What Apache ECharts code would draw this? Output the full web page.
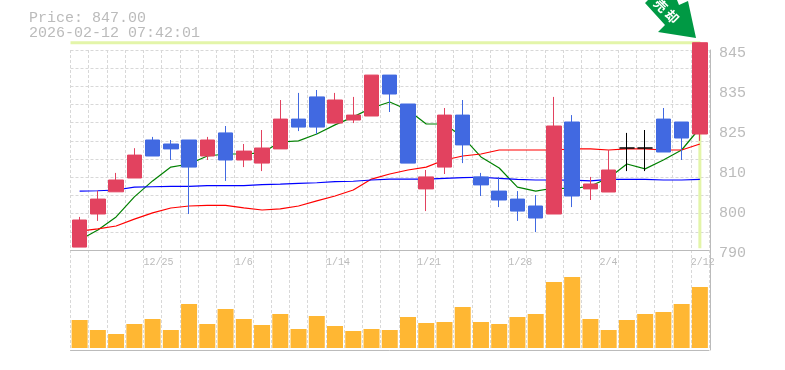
<!DOCTYPE html>
<html>
<head>
<meta charset="utf-8">
<style>
html, body { margin: 0; padding: 0; background: #fff; }
#chart { width: 785px; height: 370px; }
</style>
<script src="https://cdn.jsdelivr.net/npm/echarts@6/dist/echarts.min.js"></script>
</head>
<body>
<div id="chart"></div>
<script>
const priceText = 'Price: 847.00';
const timeText = '2026-02-12 07:42:01';
const arrowText = '売 却';
const priceNow = 847;
const priceLineBottom = 790.5;

// one entry per trading day, only every 5th is named on the axis
const dates = [
  '12/18', '12/19', '12/22', '12/23', '12/25', '12/26', '12/29', '12/30', '1/5', '1/6',
  '1/7', '1/8', '1/9', '1/13', '1/14', '1/15', '1/16', '1/19', '1/20', '1/21',
  '1/22', '1/23', '1/26', '1/27', '1/28', '1/29', '1/30', '2/2', '2/3', '2/4',
  '2/5', '2/6', '2/9', '2/10', '2/12'
];
const xTickEvery = 5;
const xTickFirst = 4;
const yTickLabels = ['790', '800', '810', '825', '835', '845'];

// open, close, low, high
const candles = [
  [790.8, 798.25, 790.8, 799.1], [799.9, 804, 798, 806.3], [806, 809.25, 806, 811.2],
  [809.8, 816.1, 809.8, 818], [820.25, 815.85, 815.85, 821.1], [819.15, 817.8, 814.75, 820.25],
  [820.25, 812.8, 799.9, 820.25], [815.85, 820.25, 814.75, 821.1], [822.2, 814.75, 809, 824.1],
  [814.75, 817.2, 812.8, 819.15], [813.9, 818.05, 811.7, 823], [817.8, 826, 817.8, 831.25],
  [826, 823.8, 822.7, 833.2], [832.1, 823.8, 821.9, 834], [824.9, 831.25, 824.9, 833.2],
  [825.75, 827.1, 824.9, 832.1], [826.85, 838.1, 826.85, 838.1], [838.1, 832.9, 827.95, 838.1],
  [830.15, 813.9, 813.9, 830.15], [806.8, 810.1, 800.7, 812], [812.8, 827.1, 810.9, 829.05],
  [827.1, 818.9, 813.9, 831.25], [810.1, 807.9, 804.85, 811.2], [806.2, 803.75, 801.8, 810.1],
  [804, 800.7, 798, 806.2], [802.1, 798.8, 794.95, 805.1], [799.9, 824.1, 799.9, 832.1],
  [825.2, 804.85, 801.8, 827.1], [806.8, 808.15, 803.75, 810.1], [805.95, 812, 805.95, 817.5],
  [818.05, 818.05, 811.7, 822.2], [818.05, 818.05, 811.7, 823], [826, 816.95, 816.95, 829.05],
  [825.2, 820.8, 814.75, 825.2], [821.9, 847, 820, 847]
];

const maShort = [
  792.75, 795.5, 799.1, 804.6, 809, 812.8, 813.65, 815.85, 816.4, 816.4,
  816.7, 819.7, 820, 821.9, 824.4, 826.6, 829.05, 830.7, 828.5, 824.65,
  824.65, 821.1, 815.6, 812.55, 807.3, 806.2, 807.05, 806.8, 807.6, 809.8,
  813.65, 812.3, 814.75, 817.5, 823.55
];
const maMiddle = [
  795.2, 795.8, 796.6, 798.5, 800.2, 801.55, 802.1, 802.25, 802.25, 801.6,
  801, 801.3, 802.1, 803.5, 804.85, 806.5, 809.5, 810.9, 812, 812.8,
  814.75, 815.85, 816.4, 817.5, 817.5, 817.5, 817.5, 817.8, 817.8, 817.5,
  817.8, 817.8, 817.5, 817.5, 819.15
];
const maLong = [
  806.2, 806.3, 806.5, 807.3, 807.4, 807.5, 807.5, 807.7, 807.7, 807.7,
  808, 808.1, 808.3, 808.5, 808.8, 808.9, 809.25, 809.5, 809.5, 809.5,
  809.7, 809.9, 810, 809.7, 809.4, 809.25, 809.25, 809.2, 809, 809.4,
  809.4, 809.4, 809.25, 809.25, 809.4
];
const volumes = [
  28, 18, 14, 24, 29, 18, 44, 24, 39, 29,
  23, 34, 19, 32, 22, 17, 19, 18, 31, 25,
  26, 41, 26, 24, 31, 34, 66, 71, 29, 18,
  28, 34, 36, 44, 61
];

const GRAY = '#bbbbbb';
const GRID_LINE = '#d8d8d8';
const MONO = '"Liberation Mono", monospace';
const count = dates.length;
const dashed = { show: true, lineStyle: { color: GRID_LINE, type: [3, 2], width: 1 } };
const solidAxis = { show: true, lineStyle: { color: GRAY, width: 1 } };

const maLine = (name, data, color) => ({
  name, data, type: 'line', xAxisIndex: 0, yAxisIndex: 0, z: 1,
  showSymbol: false, silent: true, clip: false,
  lineStyle: { color, width: 1.2 }
});

const chart = echarts.init(document.getElementById('chart'), null, { renderer: 'canvas' });
chart.setOption({
  animation: false,
  backgroundColor: '#ffffff',
  title: {
    text: priceText + '\n' + timeText,
    left: 24, top: 6,
    textStyle: { color: GRAY, fontFamily: MONO, fontSize: 15, fontWeight: 'normal', lineHeight: 15 }
  },
  grid: [
    { left: 70.5, top: 50, width: 638.5, height: 200 },
    { left: 70.5, top: 250, width: 638.5, height: 100 }
  ],
  xAxis: [
    { type: 'category', gridIndex: 0, data: dates, show: false, position: 'bottom' },
    {
      type: 'value', gridIndex: 0, position: 'bottom', min: 0, max: count, interval: 1,
      axisLine: Object.assign({ onZero: false }, solidAxis), axisTick: { show: false },
      splitLine: dashed,
      axisLabel: {
        show: true, margin: 7, align: 'left', color: GRAY, fontFamily: MONO, fontSize: 10,
        showMaxLabel: false, hideOverlap: false,
        formatter: v => (v >= xTickFirst && (v - xTickFirst) % xTickEvery === 0 && dates[v]) || ''
      }
    },
    { type: 'category', gridIndex: 1, data: dates, show: false, position: 'bottom' },
    {
      type: 'value', gridIndex: 1, position: 'bottom', min: 0, max: count, interval: 1,
      axisLine: Object.assign({ onZero: false }, solidAxis), axisTick: { show: false },
      axisLabel: { show: false }, splitLine: dashed
    }
  ],
  yAxis: [
    {
      type: 'value', gridIndex: 0, position: 'left', min: 790, max: 845, interval: 5,
      axisLine: { show: false }, axisTick: { show: false }, axisLabel: { show: false },
      splitLine: dashed
    },
    {
      type: 'value', gridIndex: 0, position: 'right', offset: 1, min: 0, max: yTickLabels.length - 1, interval: 1,
      axisLine: Object.assign({ onZero: false }, solidAxis), axisTick: { show: false }, splitLine: { show: false },
      axisLabel: {
        margin: 9, color: GRAY, fontFamily: MONO, fontSize: 15, verticalAlign: 'top', lineHeight: 6,
        formatter: v => yTickLabels[v]
      }
    },
    {
      type: 'value', gridIndex: 1, position: 'right', offset: 1, min: -2, max: 98,
      axisLine: Object.assign({ onZero: false }, solidAxis), axisTick: { show: false },
      axisLabel: { show: false }, splitLine: { show: false }
    }
  ],
  series: [
    {
      name: 'price line', type: 'line', xAxisIndex: 1, yAxisIndex: 0, z: 1, clip: false,
      showSymbol: false, silent: true,
      lineStyle: { color: '#e3f5a9', width: 3 },
      data: [[0, priceNow], [count - 0.5, priceNow], [count - 0.5, priceLineBottom]]
    },
    maLine('MA short', maShort, '#008000'),
    maLine('MA middle', maMiddle, '#ff0000'),
    maLine('MA long', maLong, '#0000ff'),
    {
      name: 'price', type: 'candlestick', xAxisIndex: 0, yAxisIndex: 0, z: 2, clip: false,
      barWidth: 15, data: candles, silent: true,
      itemStyle: {
        color: '#e2425f', color0: '#4169e1',
        borderColor: '#e2425f', borderColor0: '#4169e1', borderColorDoji: '#000000', borderWidth: 1
      }
    },
    {
      name: 'volume', type: 'bar', xAxisIndex: 2, yAxisIndex: 2, z: 2,
      barWidth: 16, data: volumes, silent: true,
      itemStyle: { color: '#ffb733' }
    }
  ],
  graphic: [
    {
      type: 'polygon', z: 10, silent: true,
      shape: { points: [[645, 3], [648, 0], [677, 0], [679, 5], [688, 1], [696, 38], [658, 32], [665, 25]] },
      style: { fill: '#009944' }
    },
    {
      type: 'text', z: 11, silent: true, x: 666.5, y: 11, rotation: -Math.PI / 4,
      style: {
        text: arrowText, fill: '#ffffff', align: 'center', verticalAlign: 'middle',
        font: 'bold 13px "Noto Sans CJK JP"'
      }
    }
  ]
});
</script>
</body>
</html>
